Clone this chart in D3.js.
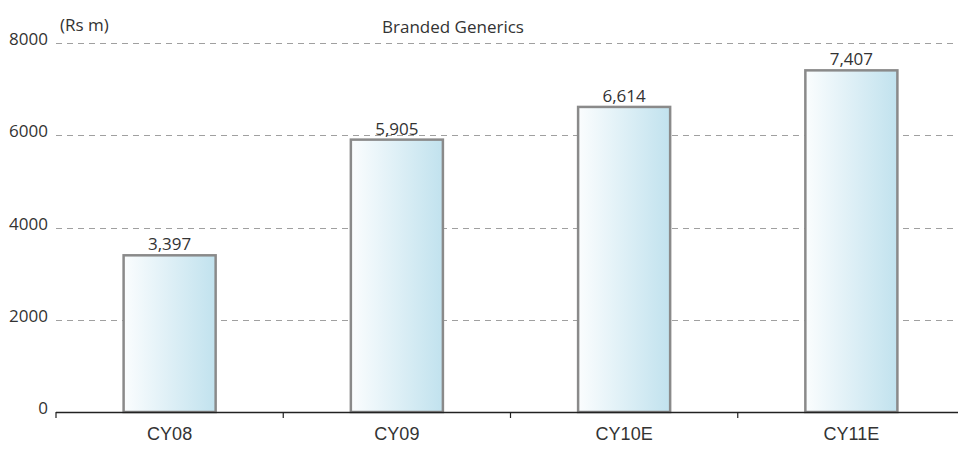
<!DOCTYPE html>
<html><head><meta charset="utf-8">
<script src="https://cdn.jsdelivr.net/npm/d3@7"></script>
<style>body{margin:0;background:#fff}svg{display:block}</style>
</head><body>
<svg id="chart" width="958" height="456"></svg>
<script>
const categories = ["CY08", "CY09", "CY10E", "CY11E"];
const values = [3397, 5905, 6614, 7407];
const yTicks = [0, 2000, 4000, 6000, 8000];
const title = "Branded Generics";
const unitLabel = "(Rs m)";

(function () {
const svg = d3.select("#chart");
const mLeft = 56, mRight = 965, mTop = 43, mBottom = 412;
const x = d3.scaleBand().domain(categories).range([mLeft, mRight]).padding(0);
const y = d3.scaleLinear().domain([0, 8000]).range([mBottom, mTop]);
const barW = x.bandwidth() * 0.405;
const numFont = "'Open Sans', sans-serif";

const defs = svg.append("defs");
const grad = defs.append("linearGradient").attr("id", "barGrad").attr("x1", "0%").attr("x2", "100%").attr("y1", "0%").attr("y2", "0%");
grad.append("stop").attr("offset", "0%").attr("stop-color", "#fbfdfe");
grad.append("stop").attr("offset", "100%").attr("stop-color", "#c1e2ee");

// gridlines
svg.append("g").selectAll("line").data(yTicks.filter(d => d > 0)).join("line")
  .attr("x1", mLeft).attr("x2", 958)
  .attr("y1", d => Math.round(y(d)) + 0.5).attr("y2", d => Math.round(y(d)) + 0.5)
  .attr("stroke", "#a0a0a0").attr("stroke-width", 1).attr("stroke-dasharray", "6,5");

// y tick labels
svg.append("g").selectAll("text").data(yTicks).join("text")
  .attr("x", 48).attr("y", d => y(d) + 2)
  .attr("text-anchor", "end").attr("font-family", numFont).attr("font-size", 17)
  .attr("fill", "#333").text(d => d);

// bars
svg.append("g").selectAll("rect").data(values).join("rect")
  .attr("x", (d, i) => x(categories[i]) + (x.bandwidth() - barW) / 2)
  .attr("y", d => y(d))
  .attr("width", barW).attr("height", d => mBottom - y(d))
  .attr("fill", "url(#barGrad)").attr("stroke", "#8a8a8a").attr("stroke-width", 2.5);

// value labels
svg.append("g").selectAll("text").data(values).join("text")
  .attr("x", (d, i) => x(categories[i]) + x.bandwidth() / 2)
  .attr("y", d => y(d) - 5)
  .attr("text-anchor", "middle").attr("font-family", numFont).attr("font-size", 17)
  .attr("fill", "#333").text(d => d3.format(",")(d));

// x axis
const xAxis = d3.axisBottom(x).tickSize(0).tickPadding(15);
const gx = svg.append("g").attr("transform", `translate(0,${mBottom})`).call(xAxis);
gx.select(".domain").remove();
gx.selectAll("text").attr("font-family", "'Liberation Sans', Arial, sans-serif").attr("font-size", 18).attr("fill", "#333");
svg.append("line").attr("x1", mLeft).attr("x2", 958).attr("y1", mBottom + 0.5).attr("y2", mBottom + 0.5)
  .attr("stroke", "#222").attr("stroke-width", 1.5);
svg.append("g").selectAll("line").data(categories).join("line")
  .attr("x1", d => x(d)).attr("x2", d => x(d))
  .attr("y1", mBottom).attr("y2", mBottom + 6)
  .attr("stroke", "#222").attr("stroke-width", 1.2);

// title & unit
svg.append("text").attr("x", 453).attr("y", 33).attr("text-anchor", "middle")
  .attr("font-family", numFont).attr("font-size", 17).attr("fill", "#333").text(title);
svg.append("text").attr("x", 60).attr("y", 31)
  .attr("font-family", numFont).attr("font-size", 17).attr("fill", "#333").text(unitLabel);
})();
</script>
</body></html>
